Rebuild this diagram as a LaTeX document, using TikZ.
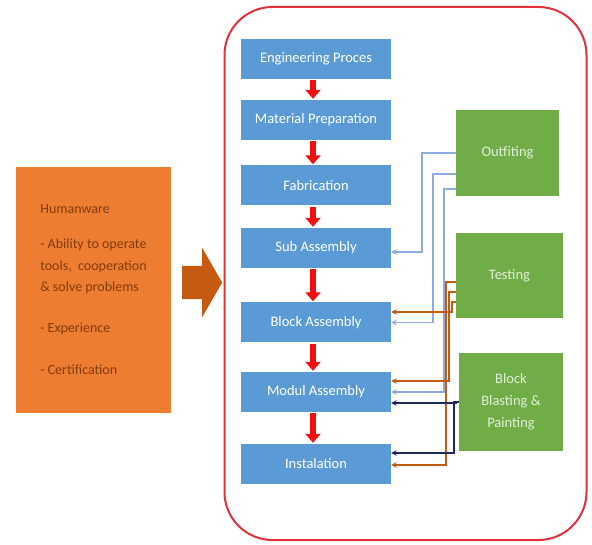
\documentclass[tikz,border=0pt]{standalone}
\usepackage{fontspec}
\setmainfont{Carlito}
\usetikzlibrary{arrows.meta,positioning,shapes.arrows}
\definecolor{stepblue}{HTML}{5B9BD5}
\definecolor{supgreen}{HTML}{70AD47}
\definecolor{suptext}{HTML}{E2F0D9}
\definecolor{hwfill}{HTML}{ED7D31}
\definecolor{hwtext}{HTML}{843C0C}
\definecolor{bigarr}{HTML}{C55A11}
\definecolor{arrred}{HTML}{F01010}
\definecolor{framered}{HTML}{E2313A}
\definecolor{linkblue}{HTML}{8FAADC}
\definecolor{linkorange}{HTML}{C55A11}
\definecolor{linknavy}{HTML}{1F2A5C}
\tikzset{
  flowarr/.style={-{Triangle[length=9pt,width=15pt]}, line width=6.5pt, draw=arrred, shorten <=1pt, shorten >=1pt},
  link/.style={-{Stealth[length=5.5pt,width=5.5pt]}, line width=1.6pt},
  boxtext/.style={font=\fontsize{14.5}{22}\selectfont},
}

\begin{document}
\begin{tikzpicture}[
  x=1pt, y=-1pt,
  boxtext,
  st/.style={fill=stepblue, text=white, minimum width=150pt, minimum height=40pt, inner sep=2pt},
  sup/.style={fill=supgreen, text=suptext, align=center, inner sep=2pt},
]
  \useasboundingbox (0,0) rectangle (592,545);
  \node[draw=framered, line width=2pt, rounded corners=48pt, minimum width=362pt, minimum height=533pt] (frame) at (405.5,273.5) {};

  % process steps
  \node[st] (eng) at (316,59) {Engineering Proces};
  \node[st] (mat) at (316,120) {Material Preparation};
  \node[st] (fab) at (316,185.5) {Fabrication};
  \node[st] (sub) at (316,248) {Sub Assembly};
  \node[st] (blk) at (316,322.5) {Block Assembly};
  \node[st] (mod) at (316,392) {Modul Assembly};
  \node[st] (ins) at (316,464) {Instalation};
  \foreach \a/\b in {eng/mat,mat/fab,fab/sub,sub/blk,blk/mod,mod/ins}
    \draw[flowarr] ([xshift=-3pt]\a.south) -- ([xshift=-3pt]\b.north);

  % support work
  \node[sup, minimum width=103pt, minimum height=86pt] (out) at (507.5,153) {Outfiting};
  \node[sup, minimum width=107pt, minimum height=85pt] (tst) at (509.5,275.5) {Testing};
  \node[sup, minimum width=104pt, minimum height=98pt] (bbp) at (511,402) {Block\\Blasting \&\\Painting};

  \draw[link, draw=linkblue] (out.west) -- ++(-34,0) |- ([yshift=-4pt]sub.east);
  \draw[link, draw=linkblue] ([yshift=-21pt]out.west) -- ++(-23,0) |- (blk.east);
  \draw[link, draw=linkblue] ([yshift=-36pt]out.west) -- ++(-12,0) |- (mod.east);
  \draw[link, draw=linkorange] ([yshift=-26.5pt]tst.west) -- ++(-4,0) |- ([yshift=10.5pt]blk.east);
  \draw[link, draw=linkorange] ([yshift=-16.5pt]tst.west) -- ++(-7,0) |- ([yshift=11pt]mod.east);
  \draw[link, draw=linkorange] ([yshift=-6.5pt]tst.west) -- ++(-10,0) |- ([yshift=-1pt]ins.east);
  \draw[link, draw=linknavy] (bbp.west) -- ++(-3,0) |- ([yshift=-11pt]mod.east);
  \draw[link, draw=linknavy] (bbp.west) -- ++(-5,0) |- ([yshift=11pt]ins.east);

  % humanware
  \node[fill=hwfill, text=hwtext, align=left, minimum width=155pt, minimum height=246pt, font=\fontsize{14}{21.5}\selectfont] (hw) at (93.5,290)
    {Humanware\\[13.5pt] - Ability to operate\\tools,\ \ cooperation\\\& solve problems\\[19.5pt]- Experience\\[20.5pt]- Certification};
  \node[single arrow, fill=bigarr, anchor=tail, minimum height=40pt, inner xsep=0pt, inner ysep=16.5pt, single arrow head extend=18pt, single arrow tip angle=120] (go) at (182,282.5) {};
\end{tikzpicture}
\end{document}
